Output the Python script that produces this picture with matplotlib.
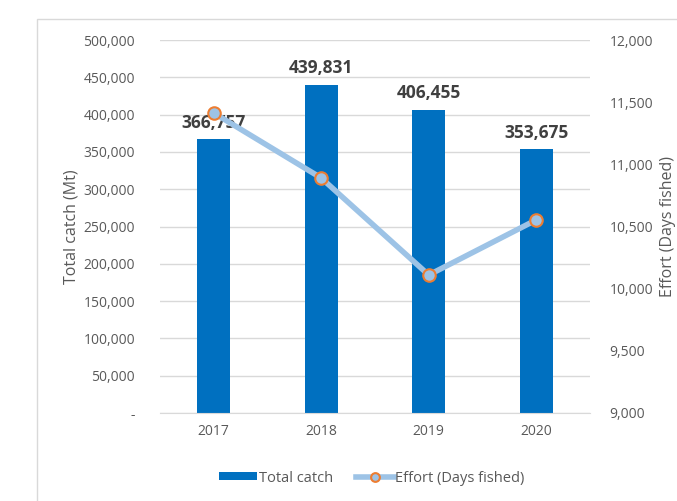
import numpy as np
import matplotlib.pyplot as plt
from matplotlib.patches import Rectangle
from matplotlib.ticker import FuncFormatter

plt.rcParams['font.family'] = ['Open Sans', 'DejaVu Sans']

years = ['2017', '2018', '2019', '2020']
total_catch = [366757, 439831, 406455, 353675]
effort = [11413, 10890, 10110, 10553]

fig = plt.figure(figsize=(6.77, 5.01), dpi=100)
# light border of the chart area
fig.patches.append(Rectangle((37/677, -0.1), 1.2, 1.1 - 19/501,
                             transform=fig.transFigure, fill=False,
                             ec='#d9d9d9', lw=1.0))

ax = fig.add_axes([160/677, 88/501, 430/677, 373/501])
x = np.arange(len(years))
ax.bar(x, total_catch, width=0.31, color='#0070C0', zorder=2, label='Total catch')
for xi, v in zip(x, total_catch):
    ax.text(xi, v + 10000, '{:,}'.format(v), ha='center', va='bottom',
            fontsize=12.5, fontweight='bold', color='#404040', zorder=5)

ax.set_xlim(-0.5, 3.5)
ax.set_ylim(0, 500000)
ax.set_yticks(np.arange(0, 500001, 50000))
ax.yaxis.set_major_formatter(FuncFormatter(lambda v, p: '-' if v == 0 else '{:,.0f}'.format(v)))
ax.set_xticks(x)
ax.set_xticklabels(years)
ax.grid(axis='y', color='#d9d9d9', lw=1.0, zorder=0)
for s in ['top', 'right', 'left']:
    ax.spines[s].set_visible(False)
ax.spines['bottom'].set_color('#d9d9d9')
ax.tick_params(axis='both', length=0, colors='#595959', labelsize=10)
ax.tick_params(axis='y', pad=18)
ax.tick_params(axis='x', pad=8)
ax.set_ylabel('Total catch (Mt)', color='#595959', fontsize=11.5)
ax.yaxis.set_label_coords(-0.188, 0.5)

ax2 = ax.twinx()
ax2.plot(x, effort, color='#9DC3E6', lw=4, marker='o', ms=9,
         mfc='#9DC3E6', mec='#ED7D31', mew=1.5, zorder=4,
         label='Effort (Days fished)')
ax2.set_ylim(9000, 12000)
ax2.set_yticks(np.arange(9000, 12001, 500))
ax2.yaxis.set_major_formatter(FuncFormatter(lambda v, p: '{:,.0f}'.format(v)))
for s in ax2.spines.values():
    s.set_visible(False)
ax2.tick_params(axis='y', length=0, colors='#595959', labelsize=10, pad=14)
ax2.set_ylabel('Effort (Days fished)', color='#595959', fontsize=11.5)
ax2.yaxis.set_label_coords(1.162, 0.5)

h1, l1 = ax.get_legend_handles_labels()
h2, l2 = ax2.get_legend_handles_labels()
fig.legend(h1 + h2, l1 + l2, loc='center', bbox_to_anchor=(372/677, 1 - 478/501),
           ncol=2, frameon=False, fontsize=10.5, labelcolor='#595959',
           handlelength=2.6, handleheight=0.5, handletextpad=0.1,
           columnspacing=1.6, markerscale=0.7)

fig.savefig('out.png', dpi=100)
